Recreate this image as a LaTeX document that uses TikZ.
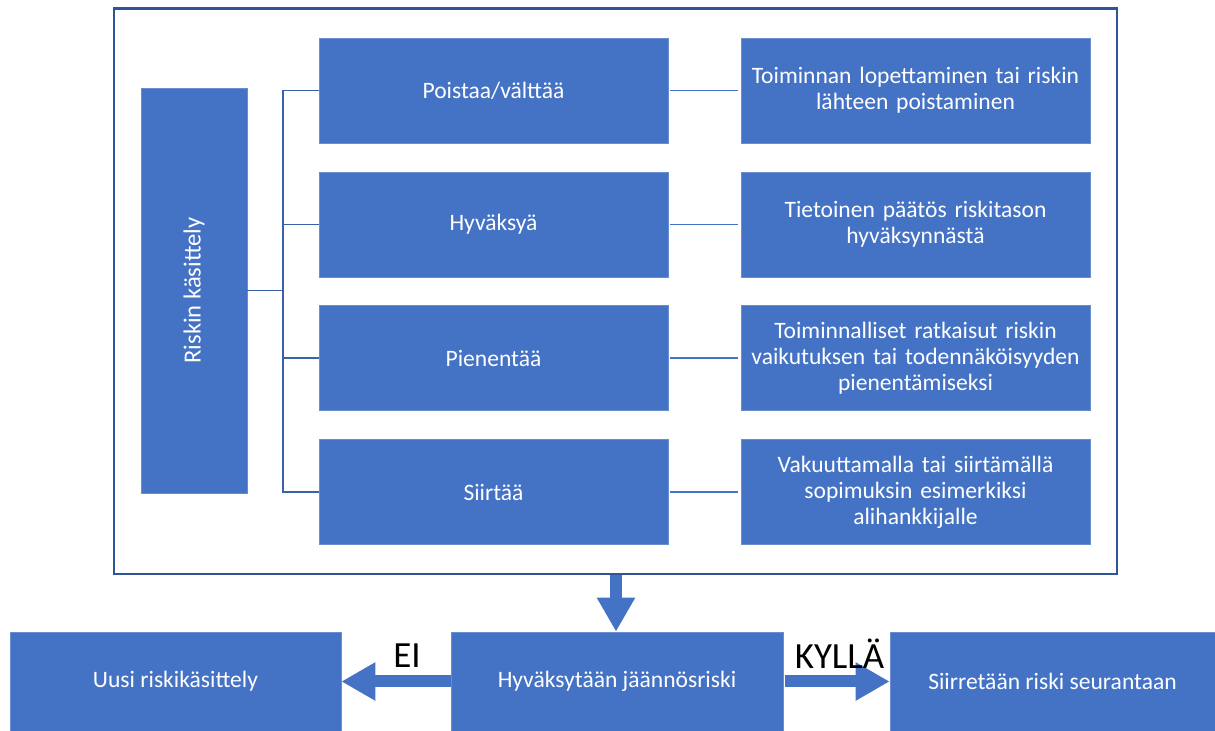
\documentclass[tikz,border=0pt]{standalone}
\usepackage{fontspec}
\setmainfont{Carlito}
\usetikzlibrary{arrows.meta, positioning, calc}
\definecolor{boxblue}{HTML}{4472C4}
\definecolor{frameblue}{HTML}{2F5597}
\definecolor{lineblue}{HTML}{3A62A8}

\begin{document}
\begin{tikzpicture}[
  optbox/.style={rectangle, minimum width=6.98cm, minimum height=2.1cm,
                 fill=boxblue, draw=boxblue!80!white, text=white,
                 align=center, font=\fontsize{13.4}{14.8}\selectfont},
  descbox/.style={optbox, text width=6.6cm},
  bigbox/.style={optbox, minimum height=1.98cm},
  bracket/.style={draw=lineblue, line width=1.1pt},
  link/.style={draw=boxblue, line width=0.8pt},
  fatarr/.style={draw=boxblue, line width=0.24cm,
                 -{Triangle[width=0.72cm, length=0.68cm]}},
  answer/.style={font=\fontsize{21}{24}\selectfont, text=black},
]
\useasboundingbox (0,0) rectangle (24.3,-14.62);

%% ── Frame ──────────────────────────────────────────────────────────
\node[draw=frameblue, line width=1.2pt, minimum width=20.06cm,
      minimum height=11.31cm, inner sep=0pt] (frame) at (12.31,-5.825) {};

%% ── Left column ────────────────────────────────────────────────────
\node[optbox, minimum width=2.12cm, minimum height=8.1cm] (main) at (3.88,-5.81) {};
\node[rotate=90, text=white, font=\fontsize{14}{16}\selectfont] (mainlbl) at (main.center) {Riskin käsittely};

%% ── Options ────────────────────────────────────────────────────────
\node[optbox] (poista) at (9.87,-1.81) {Poistaa/välttää};
\node[optbox] (hyva)   at (9.87,-4.49) {Hyväksyä};
\node[optbox] (pien)   at (9.87,-7.16) {Pienentää};
\node[optbox] (siirt)  at (9.87,-9.84) {Siirtää};

%% ── Descriptions ───────────────────────────────────────────────────
\node[descbox] (dpoista) at (18.31,-1.81) {Toiminnan lopettaminen tai riskin\\lähteen poistaminen};
\node[descbox] (dhyva)   at (18.31,-4.49) {Tietoinen päätös riskitason\\hyväksynnästä};
\node[descbox] (dpien)   at (18.31,-7.16) {Toiminnalliset ratkaisut riskin\\vaikutuksen tai todennäköisyyden\\pienentämiseksi};
\node[descbox] (dsiirt)  at (18.31,-9.84) {Vakuuttamalla tai siirtämällä\\sopimuksin esimerkiksi\\alihankkijalle};

%% ── Bottom row ─────────────────────────────────────────────────────
\node[bigbox, minimum width=6.62cm] (uusi) at (3.51,-13.63)  {Uusi riskikäsittely};
\node[bigbox, minimum width=6.64cm] (jaan) at (12.34,-13.63) {Hyväksytään jäännösriski};
\node[bigbox, minimum width=6.5cm]  (seur) at (21.05,-13.63) {Siirretään riski seurantaan};

%% ── Bracket ────────────────────────────────────────────────────────
\coordinate (brtop) at (5.66,-1.81);
\coordinate (brbot) at (5.66,-9.84);
\draw[bracket] (poista.west) -- (brtop) -- (brbot) -- (siirt.west);
\draw[bracket] (brtop |- hyva.west) -- (hyva.west);
\draw[bracket] (brtop |- pien.west) -- (pien.west);
\draw[bracket] (main.east) -- (brtop |- main.east);

%% ── Option → description ───────────────────────────────────────────
\draw[link] ([xshift=0.04cm]poista.east) -- ([xshift=-0.06cm]dpoista.west);
\draw[link] ([xshift=0.04cm]hyva.east)   -- ([xshift=-0.06cm]dhyva.west);
\draw[link] ([xshift=0.04cm]pien.east)   -- ([xshift=-0.06cm]dpien.west);
\draw[link] ([xshift=0.04cm]siirt.east)  -- ([xshift=-0.06cm]dsiirt.west);

%% ── Block arrows ───────────────────────────────────────────────────
\draw[fatarr] ([xshift=-0.02cm]jaan.north |- frame.south) -- ([xshift=-0.02cm]jaan.north);
\draw[fatarr] (jaan.west) -- node[answer, above=0.04cm, pos=0.4] (ei) {EI} (uusi.east);
\draw[fatarr] ([xshift=0.04cm]jaan.east) -- node[answer, above=0.02cm, pos=0.52] (kylla) {KYLLÄ} (seur.west);

\end{tikzpicture}
\end{document}
